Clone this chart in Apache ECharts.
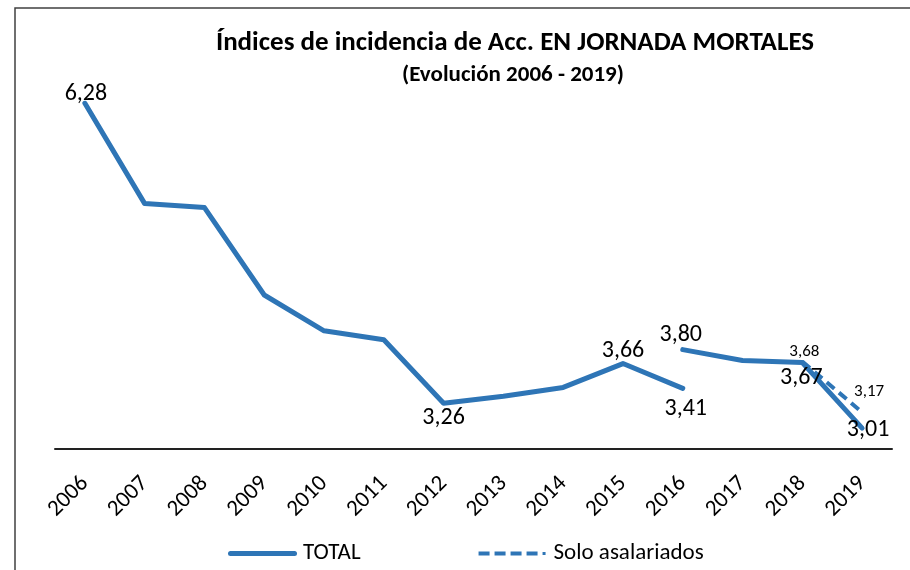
<!DOCTYPE html>
<html>
<head>
<meta charset="utf-8">
<script src="https://cdn.jsdelivr.net/npm/echarts@6/dist/echarts.min.js"></script>
<style>
html,body{margin:0;padding:0;background:#fff;}
#chart{width:910px;height:570px;}
</style>
</head>
<body>
<div id="chart"></div>
<script>
const years = ['2006','2007','2008','2009','2010','2011','2012','2013','2014','2015','2016','2017','2018','2019'];
const totalOld = [6.28, 5.27, 5.23, 4.35, 3.99, 3.90, 3.26, 3.33, 3.42, 3.66, 3.41, null, null, null];
const totalNew = [null, null, null, null, null, null, null, null, null, null, 3.80, 3.69, 3.67, 3.01];
const soloAsalariados = [null, null, null, null, null, null, null, null, null, null, null, null, 3.68, 3.17];
const labelledOld = ['2006','2012','2015','2016'];
const labelledNew = ['2016','2018','2019'];
const titleText = 'Índices de incidencia de Acc. EN JORNADA MORTALES';
const subtitleText = '(Evolución 2006 - 2019)';

const FONT = 'Carlito, Lato, "Noto Sans", sans-serif';
const BLUE = '#2E75B6';
const fmt = v => v.toFixed(2).replace('.', ',');

function labelData(values, labelled, labelOpts) {
  return values.map((v, i) => {
    if (v === null) return null;
    const item = { value: v };
    if (labelled.includes(years[i])) {
      item.label = Object.assign({ show: true }, labelOpts[years[i]] || {});
    }
    return item;
  });
}

const ICON_SOLID = 'path://M2.5,0H66.5A2.5,2.5,0,0,1,66.5,5H2.5A2.5,2.5,0,0,1,2.5,0Z';
const ICON_DASH = 'path://M0,0.5H11V4.5H0Z M16,0.5H27V4.5H16Z M32,0.5H43V4.5H32Z M48,0.5H59V4.5H48Z M64,1H67V4H64Z M0,0H0.01V5H0Z M68.99,0H69V5H68.99Z';

const chart = echarts.init(document.getElementById('chart'));
chart.setOption({
  animation: false,
  backgroundColor: '#fff',
  title: [{
    text: titleText,
    left: 510, top: 25, textAlign: 'center',
    textStyle: { fontFamily: FONT, fontSize: 27, fontWeight: 'bold', color: '#000' }
  }, {
    text: subtitleText,
    left: 508, top: 59, textAlign: 'center',
    textStyle: { fontFamily: FONT, fontSize: 23, fontWeight: 'bold', color: '#000' }
  }],
  graphic: [{
    type: 'polyline',
    shape: { points: [[15, 600], [15, 8], [920, 8]] },
    style: { stroke: '#404040', lineWidth: 1.5, fill: null }
  }],
  legend: {
    left: 223, top: 537,
    itemWidth: 69, itemHeight: 5, itemGap: 118,
    textStyle: { fontFamily: FONT, fontSize: 23, color: '#000', padding: [0, 0, 0, 1] },
    data: [{ name: 'TOTAL', icon: ICON_SOLID }, { name: 'Solo asalariados', icon: ICON_DASH }]
  },
  grid: { left: 55, right: 18, top: 51.6, bottom: 121 },
  xAxis: {
    type: 'category', data: years, boundaryGap: true,
    axisLine: { lineStyle: { color: '#222', width: 2 } },
    axisTick: { show: false },
    axisLabel: { rotate: 45, fontFamily: FONT, fontSize: 23, color: '#000', margin: 31 }
  },
  yAxis: {
    type: 'value', min: 2.8, max: 6.8, show: false, splitLine: { show: false }
  },
  series: [{
    name: 'TOTAL', type: 'line', symbol: 'circle', symbolSize: 0,
    lineStyle: { color: BLUE, width: 5, cap: 'round', join: 'round' },
    itemStyle: { color: BLUE },
    label: { fontFamily: FONT, fontSize: 24, color: '#000', formatter: p => fmt(p.value) },
    data: labelData(totalOld, labelledOld, {
      '2006': { position: 'top', distance: -3, offset: [1, 0] },
      '2012': { position: 'bottom', distance: 3 },
      '2015': { position: 'top', distance: 1 },
      '2016': { position: 'bottom', distance: 9, offset: [3, 0] }
    })
  }, {
    name: 'TOTAL', type: 'line', symbol: 'circle', symbolSize: 0,
    lineStyle: { color: BLUE, width: 5, cap: 'round', join: 'round' },
    itemStyle: { color: BLUE },
    label: { fontFamily: FONT, fontSize: 24, color: '#000', formatter: p => fmt(p.value) },
    data: labelData(totalNew, labelledNew, {
      '2016': { position: 'top', distance: 3, offset: [-2, 0] },
      '2018': { position: 'bottom', distance: 3, offset: [-1, 0] },
      '2019': { position: 'inside', offset: [6, 2] }
    })
  }, {
    name: 'Solo asalariados', type: 'line', symbol: 'circle', symbolSize: 0, z: 3,
    lineStyle: { color: BLUE, width: 4, type: [10, 6] },
    itemStyle: { color: BLUE },
    label: { show: true, fontFamily: FONT, fontSize: 17, color: '#000', formatter: p => fmt(p.value) },
    data: labelData(soloAsalariados, ['2018','2019'], {
      '2018': { position: 'top', distance: 1, offset: [2, 0] },
      '2019': { position: 'top', distance: 12, offset: [7, 0] }
    })
  }]
});
</script>
</body>
</html>
